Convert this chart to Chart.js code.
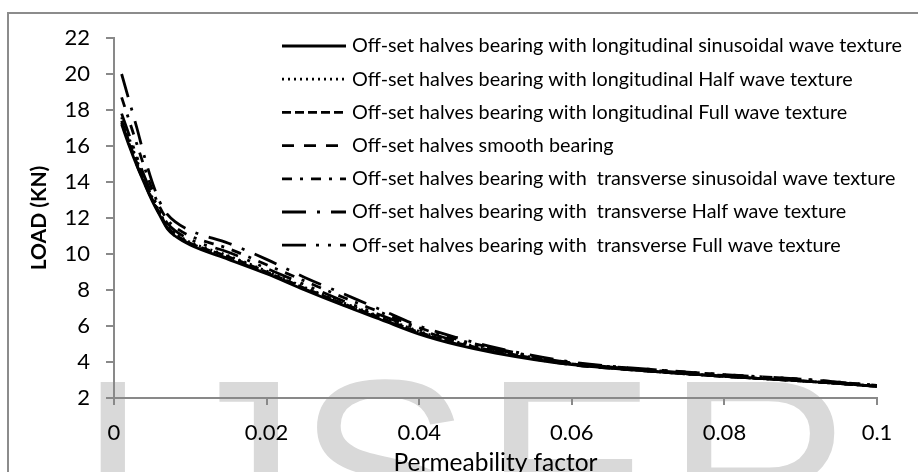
<!DOCTYPE html>
<html>
<head>
<meta charset="utf-8">
<script src="https://cdn.jsdelivr.net/npm/chart.js@4.4.0/dist/chart.umd.min.js"></script>
<style>
  body { margin: 0; background: #fff; }
  #wrap { width: 918px; height: 472px; position: relative; }
</style>
</head>
<body>
<div id="wrap"><canvas id="graph" width="918" height="472"></canvas></div>
<script>
// permeability factor (x) and load in kN for each bearing
const permeability = [0.001, 0.002, 0.003, 0.004, 0.005, 0.006, 0.007, 0.008, 0.01, 0.015, 0.02,
                      0.025, 0.03, 0.035, 0.04, 0.045, 0.05, 0.06, 0.07, 0.08, 0.09, 0.1];

const longSinusoidal = [17.2, 16.0, 14.9, 13.9, 12.95, 12.15, 11.4, 11.0, 10.5, 9.7, 8.9,
                        8.0, 7.15, 6.35, 5.55, 4.95, 4.5, 3.85, 3.5, 3.2, 2.95, 2.65];
const longHalf       = [17.6, 16.4, 15.2, 14.1, 13.15, 12.3, 11.55, 11.15, 10.65, 9.9, 9.05,
                        8.15, 7.3, 6.5, 5.7, 5.1, 4.65, 3.9, 3.5, 3.2, 2.95, 2.65];
const longFull       = [17.4, 16.2, 15.05, 14.0, 13.05, 12.25, 11.5, 11.1, 10.6, 9.85, 9.0,
                        8.1, 7.25, 6.45, 5.65, 5.05, 4.6, 3.9, 3.5, 3.2, 2.95, 2.65];
const smooth         = [17.3, 16.1, 14.95, 13.95, 13.0, 12.2, 11.45, 11.05, 10.55, 9.75, 8.95,
                        8.05, 7.2, 6.4, 5.6, 5.0, 4.55, 3.85, 3.5, 3.2, 2.95, 2.65];
const transSinusoidal= [18.7, 17.4, 16.1, 14.8, 13.6, 12.6, 11.9, 11.5, 11.0, 10.3, 9.4,
                        8.5, 7.6, 6.75, 5.9, 5.25, 4.75, 3.95, 3.6, 3.3, 3.05, 2.7];
const transHalf      = [20.0, 18.5, 17.0, 15.4, 14.0, 12.9, 12.2, 11.8, 11.3, 10.6, 9.7,
                        8.7, 7.8, 6.9, 6.0, 5.35, 4.8, 4.0, 3.6, 3.3, 3.05, 2.7];
const transFull      = [17.8, 16.6, 15.4, 14.3, 13.3, 12.4, 11.7, 11.3, 10.8, 10.1, 9.2,
                        8.3, 7.4, 6.6, 5.8, 5.15, 4.7, 3.95, 3.55, 3.25, 3.0, 2.7];

const seriesLabels = [
  "Off-set halves bearing with longitudinal sinusoidal wave texture",
  "Off-set halves bearing with longitudinal Half wave texture",
  "Off-set halves bearing with longitudinal Full wave texture",
  "Off-set halves smooth bearing",
  "Off-set halves bearing with  transverse sinusoidal wave texture",
  "Off-set halves bearing with  transverse Half wave texture",
  "Off-set halves bearing with  transverse Full wave texture"
];
const seriesValues = [longSinusoidal, longHalf, longFull, smooth, transSinusoidal, transHalf, transFull];
const dashes = [[], [2, 4], [9, 4], [12, 10], [10, 8, 3, 8], [24, 11, 3, 11], [24, 10, 3, 9, 3, 9]];

const xTitle = "Permeability factor";
const yTitle = "LOAD (KN)";
const watermark = [['I', 97, 'left'], ['J', 281, 'right'], ['S', 305, 'left'], ['E', 503, 'left'], ['R', 686, 'left']];

const FONT = "Lato, 'Open Sans', sans-serif";
const AXIS = '#898989';

const datasets = seriesValues.map((vals, i) => ({
  label: seriesLabels[i],
  data: vals.map((v, j) => ({ x: permeability[j], y: v })),
  borderColor: '#000',
  borderWidth: 2.8,
  borderDash: dashes[i],
  pointRadius: 0,
  fill: false,
  cubicInterpolationMode: 'monotone'
}));

// grey frame + watermark behind everything
const backdrop = {
  id: 'backdrop',
  beforeDraw(chart) {
    const ctx = chart.ctx;
    ctx.save();
    ctx.fillStyle = '#fff';
    ctx.fillRect(0, 0, chart.width, chart.height);
    ctx.fillStyle = '#d9d9d9';
    ctx.font = "260px 'Liberation Sans'";
    ctx.textBaseline = 'alphabetic';
    const capTop = 378;
    const asc = ctx.measureText('E').actualBoundingBoxAscent;
    watermark.forEach(([ch, x, side]) => {
      const m = ctx.measureText(ch);
      const px = side === 'left' ? x + m.actualBoundingBoxLeft : x - m.actualBoundingBoxRight;
      ctx.fillText(ch, px, capTop + asc);
    });
    ctx.strokeStyle = '#8c8c8c';
    ctx.lineWidth = 2;
    ctx.strokeRect(8, 13, 930, 500);
    ctx.restore();
  }
};

// legend drawn inside the plot, top right
const insideLegend = {
  id: 'insideLegend',
  afterDraw(chart) {
    const ctx = chart.ctx;
    ctx.save();
    ctx.font = "19.8px " + FONT;
    ctx.textBaseline = 'middle';
    ctx.fillStyle = '#000';
    chart.data.datasets.forEach((ds, i) => {
      const y = 46 + i * 33.2;
      ctx.beginPath();
      ctx.setLineDash(ds.borderDash);
      ctx.lineWidth = ds.borderWidth;
      ctx.strokeStyle = ds.borderColor;
      ctx.moveTo(282, y);
      ctx.lineTo(346, y);
      ctx.stroke();
      ctx.setLineDash([]);
      ctx.fillText(ds.label, 352, y);
    });
    ctx.restore();
  }
};

new Chart(document.getElementById('graph'), {
  type: 'line',
  data: { datasets: datasets },
  plugins: [backdrop, insideLegend],
  options: {
    responsive: false,
    animation: false,
    events: [],
    layout: { padding: { top: 38, right: 41, left: 0, bottom: 0 } },
    plugins: { legend: { display: false }, tooltip: { enabled: false } },
    scales: {
      x: {
        type: 'linear',
        min: 0, max: 0.1,
        afterFit: s => { s.height = 74; },
        border: { color: AXIS, width: 2 },
        grid: { display: true, drawOnChartArea: false, tickLength: 7, color: AXIS, lineWidth: 2 },
        ticks: {
          stepSize: 0.02, padding: 15, color: '#000',
          font: { family: FONT, size: 22 },
          callback: v => String(Number(v.toFixed(2)))
        },
        title: {
          display: true, text: xTitle, color: '#000',
          font: { family: FONT, size: 24.5, lineHeight: 0.75 },
          padding: { top: 0, bottom: 0 }
        }
      },
      y: {
        min: 2, max: 22,
        afterFit: s => { s.width = 114; },
        border: { color: AXIS, width: 2 },
        grid: { display: true, drawOnChartArea: false, tickLength: 8, color: AXIS, lineWidth: 2 },
        ticks: {
          stepSize: 2, padding: 16, color: '#000',
          font: { family: FONT, size: 22 }
        },
        title: {
          display: true, text: yTitle, color: '#000',
          font: { family: FONT, size: 21, weight: 'bold', lineHeight: 1.2 },
          padding: { top: 27, bottom: 0 }
        }
      }
    }
  }
});
</script>
</body>
</html>
